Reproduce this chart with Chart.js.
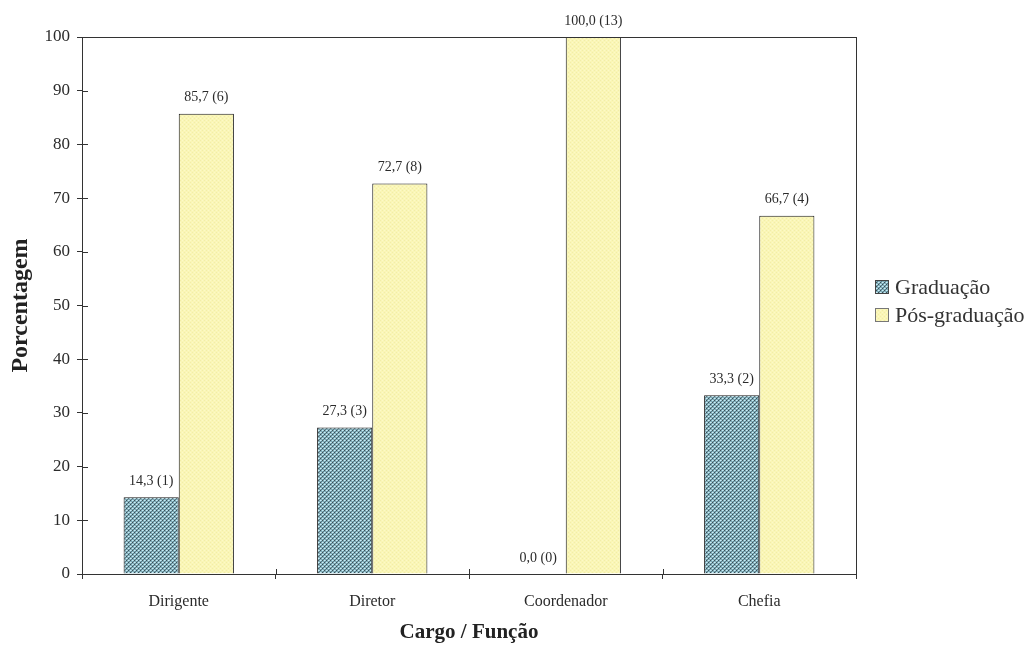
<!DOCTYPE html>
<html>
<head>
<meta charset="utf-8">
<script src="https://cdn.jsdelivr.net/npm/chart.js@4/dist/chart.umd.min.js"></script>
<style>
  html, body { margin: 0; padding: 0; background: #ffffff; }
  #wrap { width: 1033px; height: 645px; }
</style>
</head>
<body>
<div id="wrap"><canvas id="chart" width="1033" height="645"></canvas></div>
<script>
// Categories and values (percent) with respondent counts
const categories = ['Dirigente', 'Diretor', 'Coordenador', 'Chefia'];
const graduacao = [14.3, 27.3, 0.0, 33.3];
const posGraduacao = [85.7, 72.7, 100.0, 66.7];
const graduacaoN = [1, 3, 0, 2];
const posGraduacaoN = [6, 8, 13, 4];
const seriesNames = ['Graduação', 'Pós-graduação'];
const yTickValues = [0, 10, 20, 30, 40, 50, 60, 70, 80, 90, 100];

const SERIF = '"Liberation Serif", "DejaVu Serif", serif';
const INK = '#2b2b2b';

// Dotted fill for the first series
function makeDotPattern() {
  const c = document.createElement('canvas');
  c.width = 4; c.height = 4;
  const g = c.getContext('2d');
  g.fillStyle = '#7eaab6'; g.fillRect(0, 0, 4, 4);
  g.fillStyle = '#cdeef6'; g.fillRect(0, 0, 1, 1); g.fillRect(2, 2, 1, 1);
  g.fillStyle = '#a6d2de'; g.fillRect(1, 0, 1, 1); g.fillRect(3, 2, 1, 1);
  g.fillStyle = '#3c4e56'; g.fillRect(2, 0, 1, 1); g.fillRect(0, 2, 1, 1);
  g.fillStyle = '#5a7c88'; g.fillRect(1, 1, 1, 1); g.fillRect(3, 3, 1, 1);
  return g.createPattern(c, 'repeat');
}
// Soft textured fill for the second series
function makeYellowPattern() {
  const c = document.createElement('canvas');
  c.width = 4; c.height = 4;
  const g = c.getContext('2d');
  g.fillStyle = '#faf6b6'; g.fillRect(0, 0, 4, 4);
  g.fillStyle = '#f2eda8'; g.fillRect(0, 0, 1, 1); g.fillRect(2, 2, 1, 1);
  g.fillStyle = '#fcf9c8'; g.fillRect(2, 0, 1, 1); g.fillRect(0, 2, 1, 1);
  return g.createPattern(c, 'repeat');
}

const fills = [makeDotPattern(), makeYellowPattern()];
const counts = [graduacaoN, posGraduacaoN];

function fmt(v) { return v.toFixed(1).replace('.', ','); }

// Value labels "xx,x (n)" above each bar
const valueLabels = {
  id: 'valueLabels',
  afterDatasetsDraw(chart) {
    const ctx = chart.ctx;
    ctx.save();
    ctx.font = '14px ' + SERIF;
    ctx.fillStyle = INK;
    ctx.textAlign = 'center';
    ctx.textBaseline = 'middle';
    chart.data.datasets.forEach((ds, di) => {
      const meta = chart.getDatasetMeta(di);
      meta.data.forEach((bar, i) => {
        const txt = fmt(ds.data[i]) + ' (' + counts[di][i] + ')';
        ctx.fillText(txt, bar.x, bar.y - 16);
      });
    });
    ctx.restore();
  }
};

// Box round the plot area and tick marks reaching inside it
const frameAndTicks = {
  id: 'frameAndTicks',
  afterDraw(chart) {
    const { ctx, chartArea: a, scales } = chart;
    ctx.save();
    ctx.strokeStyle = '#333333';
    ctx.lineWidth = 1;
    ctx.strokeRect(Math.round(a.left) + 0.5, Math.round(a.top) + 0.5,
                   Math.round(a.right - a.left), Math.round(a.bottom - a.top));
    ctx.beginPath();
    scales.y.ticks.forEach(t => {
      const y = Math.round(scales.y.getPixelForValue(t.value)) + 0.5;
      ctx.moveTo(a.left, y); ctx.lineTo(a.left + 6, y);
    });
    for (let i = 0; i < categories.length - 1; i++) {
      const x = Math.round(scales.x.getPixelForValue(i + 0.5)) + 0.5;
      ctx.moveTo(x, a.bottom); ctx.lineTo(x, a.bottom - 5);
    }
    ctx.stroke();
    ctx.restore();
  }
};

// Legend at the right of the plot
const sideLegend = {
  id: 'sideLegend',
  afterDraw(chart) {
    const ctx = chart.ctx;
    const a = chart.chartArea;
    const x0 = a.right + 19;
    const y0 = 287;
    const step = 28;
    ctx.save();
    ctx.font = '22px ' + SERIF;
    ctx.textBaseline = 'middle';
    ctx.textAlign = 'left';
    chart.data.datasets.forEach((ds, i) => {
      const y = y0 + i * step;
      ctx.fillStyle = ds.backgroundColor;
      ctx.fillRect(x0, y - 7, 14, 14);
      ctx.strokeStyle = i === 0 ? '#444444' : '#777777';
      ctx.lineWidth = 1;
      ctx.strokeRect(x0 + 0.5, y - 6.5, 13, 13);
      ctx.fillStyle = '#333333';
      ctx.fillText(ds.label, x0 + 20, y + 1);
    });
    ctx.restore();
  }
};

new Chart(document.getElementById('chart'), {
  type: 'bar',
  data: {
    labels: categories,
    datasets: [
      { label: seriesNames[0], data: graduacao, backgroundColor: fills[0],
        borderColor: '#1a1a1a', borderWidth: 1 },
      { label: seriesNames[1], data: posGraduacao, backgroundColor: fills[1],
        borderColor: '#1a1a1a', borderWidth: 1 }
    ]
  },
  options: {
    responsive: false,
    animation: false,
    devicePixelRatio: 1,
    layout: { padding: { top: 37, right: 177, left: 0, bottom: 0 } },
    datasets: { bar: { categoryPercentage: 0.57, barPercentage: 1.0 } },
    plugins: {
      legend: { display: false },
      tooltip: { enabled: false }
    },
    scales: {
      x: {
        grid: { display: true, drawOnChartArea: false, offset: true,
                tickLength: 5, color: '#333333' },
        border: { color: '#333333' },
        ticks: { color: INK, font: { family: SERIF, size: 16 }, padding: 13 },
        title: { display: true, text: 'Cargo / Função', color: '#222222',
                 font: { family: SERIF, size: 21, weight: 'bold' },
                 padding: { top: 0, bottom: 0 } },
        afterFit(scale) { scale.height = 71; }
      },
      y: {
        min: 0, max: 100,
        afterBuildTicks(scale) { scale.ticks = yTickValues.map(v => ({ value: v })); },
        grid: { display: true, drawOnChartArea: false, tickLength: 5, color: '#333333' },
        border: { color: '#333333' },
        ticks: { color: INK, font: { family: SERIF, size: 17 }, padding: 7 },
        title: { display: true, text: 'Porcentagem', color: '#222222',
                 font: { family: SERIF, size: 24, weight: 'bold' },
                 padding: { top: 6, bottom: 0 } },
        afterFit(scale) { scale.width = 82; }
      }
    }
  },
  plugins: [valueLabels, frameAndTicks, sideLegend]
});
</script>
</body>
</html>
